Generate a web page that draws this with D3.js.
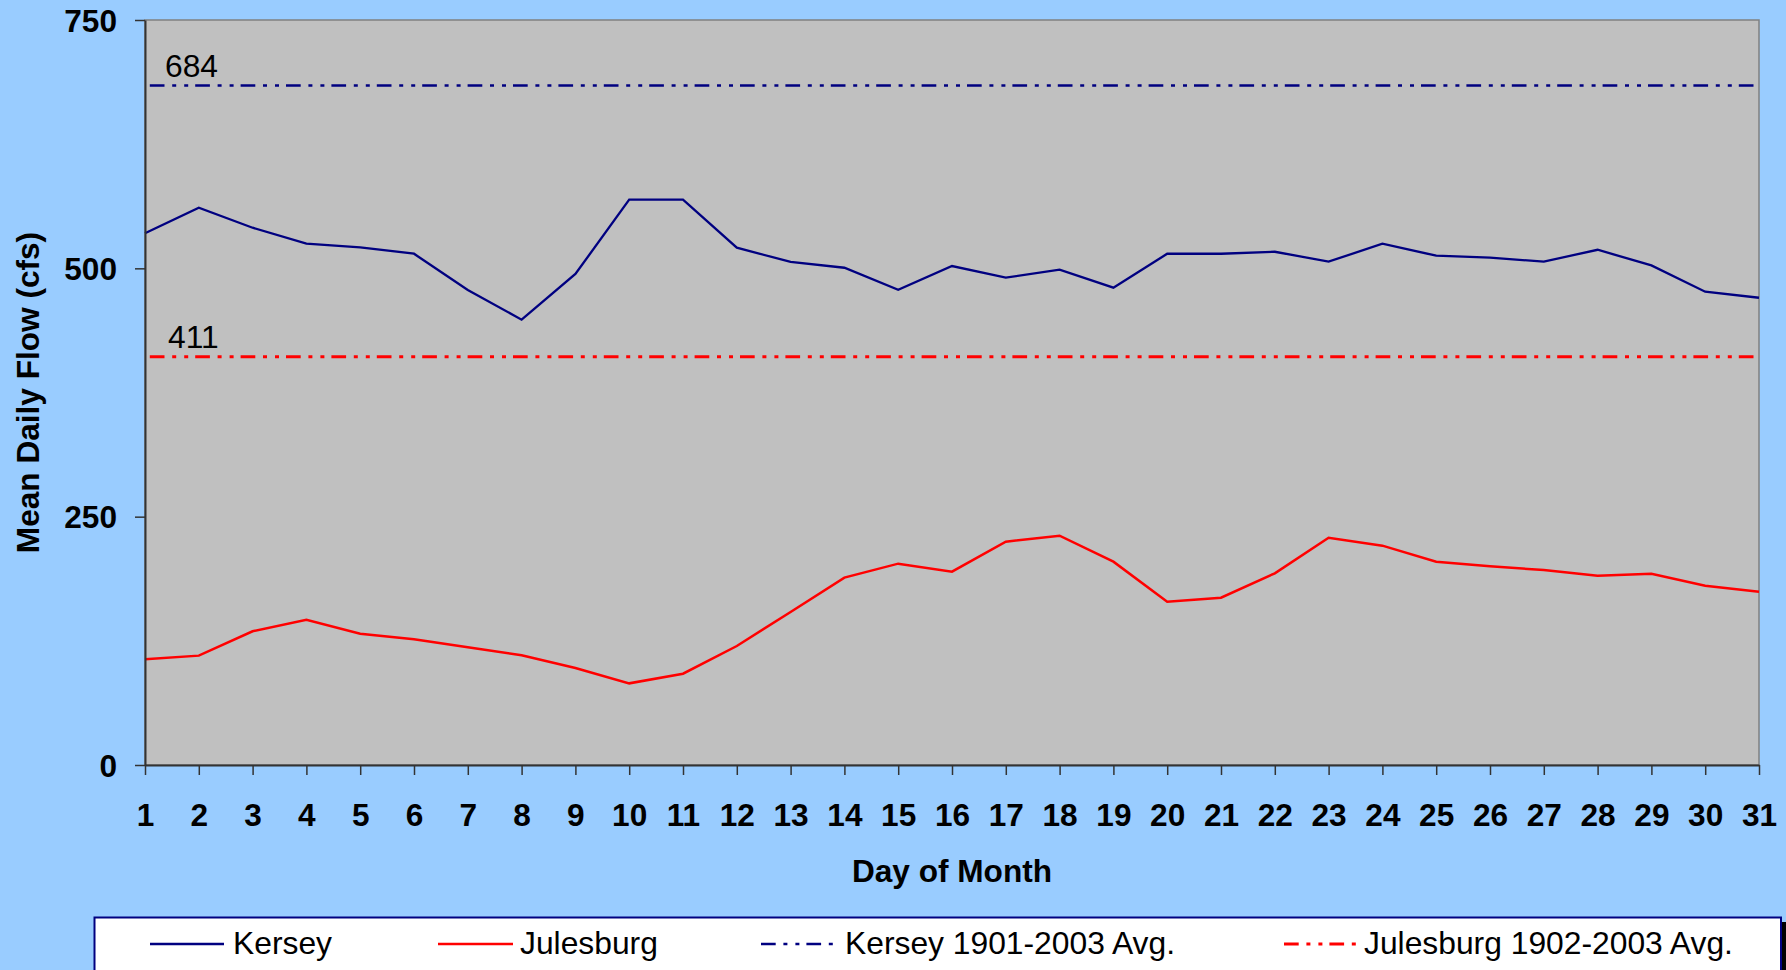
<!DOCTYPE html>
<html>
<head>
<meta charset="utf-8">
<script src="https://cdn.jsdelivr.net/npm/d3@7"></script>
<style>
  html, body { margin: 0; padding: 0; background: #99CCFF; }
  svg { display: block; font-family: Arial, "Liberation Sans", sans-serif; }
</style>
</head>
<body>
<svg id="chart" width="1786" height="970"></svg>
<script>
// ---- data ----
const days = [1,2,3,4,5,6,7,8,9,10,11,12,13,14,15,16,17,18,19,20,21,22,23,24,25,26,27,28,29,30,31];
const kersey = [535.3, 561.1, 540.9, 524.8, 521.0, 514.7, 478.2, 448.3, 494.3, 569.1, 569.1, 520.8, 506.4, 500.6, 478.5, 502.3, 490.6, 498.6, 480.5, 514.7, 514.7, 516.7, 506.7, 524.8, 512.7, 510.7, 506.7, 518.7, 503.0, 476.5, 470.4];
const julesburg = [106.4, 110.1, 134.6, 146.3, 132.2, 126.5, 118.5, 110.4, 97.6, 82.2, 91.9, 119.8, 154.0, 188.6, 202.7, 194.6, 224.8, 230.8, 204.7, 164.4, 168.4, 193.0, 228.8, 220.8, 204.7, 200.0, 196.3, 190.6, 192.6, 180.5, 174.5];
const kerseyAvg = 684;
const julesburgAvg = 411;
const yTicks = [0, 250, 500, 750];
const seriesNames = ["Kersey", "Julesburg", "Kersey 1901-2003 Avg.", "Julesburg 1902-2003 Avg."];

(function () {
// ---- layout ----
const svg = d3.select("#chart");
const W = 1786, H = 970;
const pL = 145, pR = 1759, pT = 20, pB = 765;
const navy = "#000080", red = "#FF0000";
const dashPat = "14.7,7.7,4,8,4,7";
const fsBold = 31.6, fsReg = 31.8;

svg.append("rect").attr("width", W).attr("height", H).attr("fill", "#99CCFF");

const x = d3.scaleLinear().domain([1, 31]).range([pL, pR]);
const y = d3.scaleLinear().domain([0, 750]).range([pB, pT]);

// plot area
svg.append("rect")
  .attr("x", pL).attr("y", pT)
  .attr("width", pR - pL).attr("height", pB - pT)
  .attr("fill", "#C0C0C0").attr("stroke", "#808080").attr("stroke-width", 1.5);

// reference lines
function refLine(val, color, width, offset) {
  svg.append("line")
    .attr("x1", x(1)).attr("x2", x(31))
    .attr("y1", y(val)).attr("y2", y(val))
    .attr("stroke", color).attr("stroke-width", width)
    .attr("stroke-dasharray", dashPat)
    .attr("stroke-dashoffset", offset);
}
refLine(kerseyAvg, navy, 2.4, 40.6);
refLine(julesburgAvg, red, 3, 40.6);

svg.append("text").attr("x", 165).attr("y", y(kerseyAvg) - 8.5)
  .attr("font-size", fsReg).attr("fill", "#000").text(String(kerseyAvg));
svg.append("text").attr("x", 168).attr("y", y(julesburgAvg) - 8.5)
  .attr("font-size", fsReg).attr("fill", "#000").text(String(julesburgAvg));

// series lines
const line = d3.line().x((d, i) => x(days[i])).y(d => y(d));
svg.append("path").datum(kersey).attr("d", line)
  .attr("fill", "none").attr("stroke", navy).attr("stroke-width", 2.3)
  .attr("stroke-linejoin", "miter");
svg.append("path").datum(julesburg).attr("d", line)
  .attr("fill", "none").attr("stroke", red).attr("stroke-width", 2.5)
  .attr("stroke-linejoin", "miter");

// axes
const xAxis = d3.axisBottom(x).tickValues(days).tickFormat(d3.format("d"))
  .tickSize(10).tickSizeOuter(0);
const gx = svg.append("g").attr("transform", `translate(0,${pB})`).call(xAxis);
gx.select(".domain").attr("stroke", "#333").attr("stroke-width", 2);
gx.selectAll(".tick line").attr("stroke", "#333").attr("stroke-width", 1.5);
gx.selectAll(".tick text")
  .attr("y", 61).attr("dy", 0)
  .attr("font-size", fsBold).attr("font-weight", "bold").attr("fill", "#000")
  .attr("font-family", "Arial, 'Liberation Sans', sans-serif");

const yAxis = d3.axisLeft(y).tickValues(yTicks).tickFormat(d3.format("d"))
  .tickSize(10).tickSizeOuter(0);
const gy = svg.append("g").attr("transform", `translate(${pL},0)`).call(yAxis);
gy.select(".domain").attr("stroke", "#333").attr("stroke-width", 2);
gy.selectAll(".tick line").attr("stroke", "#333").attr("stroke-width", 1.5);
gy.selectAll(".tick text")
  .attr("x", -28).attr("dy", 11)
  .attr("font-size", fsBold).attr("font-weight", "bold").attr("fill", "#000")
  .attr("font-family", "Arial, 'Liberation Sans', sans-serif");

// axis titles
svg.append("text")
  .attr("x", (pL + pR) / 2).attr("y", 882)
  .attr("text-anchor", "middle").attr("font-size", fsBold).attr("font-weight", "bold")
  .text("Day of Month");
svg.append("text")
  .attr("transform", `translate(39,${(pT + pB) / 2}) rotate(-90)`)
  .attr("text-anchor", "middle").attr("font-size", fsBold).attr("font-weight", "bold")
  .text("Mean Daily Flow (cfs)");

// legend
svg.append("rect").attr("x", 100).attr("y", 922).attr("width", 1690).attr("height", 60).attr("fill", "#000");
svg.append("rect").attr("x", 94.5).attr("y", 917.5).attr("width", 1686.5).attr("height", 60)
  .attr("fill", "#FFFFFF").attr("stroke", navy).attr("stroke-width", 2);

const legendItems = [
  { name: seriesNames[0], color: navy, dash: null, x1: 150, x2: 224, tx: 233, w: 2.3 },
  { name: seriesNames[1], color: red, dash: null, x1: 438, x2: 513, tx: 520, w: 2.5 },
  { name: seriesNames[2], color: navy, dash: dashPat, x1: 761, x2: 839, tx: 845, w: 2.4 },
  { name: seriesNames[3], color: red, dash: dashPat, x1: 1284, x2: 1356, tx: 1364, w: 3 }
];
const lg = svg.selectAll("g.leg").data(legendItems).enter().append("g").attr("class", "leg");
lg.append("line")
  .attr("x1", d => d.x1).attr("x2", d => d.x2).attr("y1", 944).attr("y2", 944)
  .attr("stroke", d => d.color).attr("stroke-width", d => d.w)
  .attr("stroke-dasharray", d => d.dash);
lg.append("text")
  .attr("x", d => d.tx).attr("y", 954)
  .attr("font-size", fsReg).attr("fill", "#000")
  .text(d => d.name);
})();
</script>
</body>
</html>
